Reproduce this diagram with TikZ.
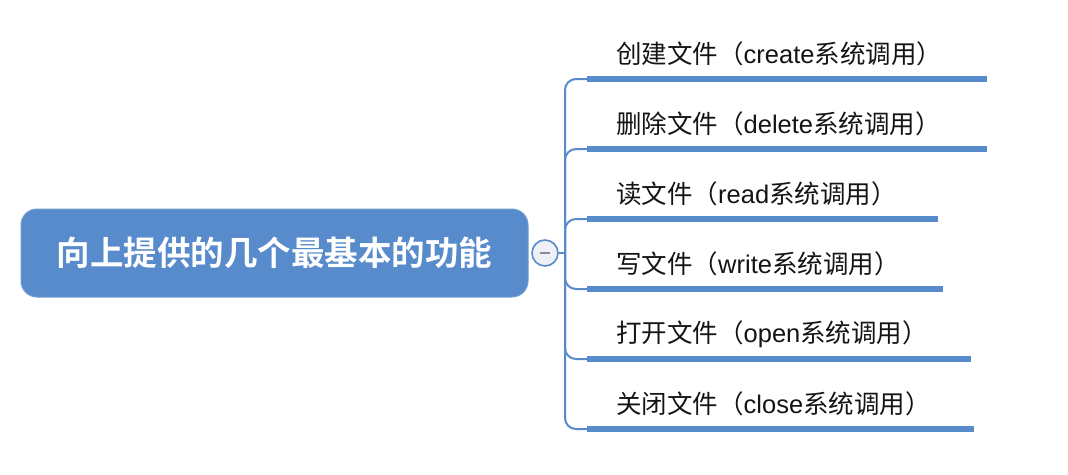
\documentclass[tikz,border=0pt]{standalone}
\usepackage{fontspec}
\newfontfamily\cjk{Noto Sans CJK SC}[BoldFont={Noto Sans CJK SC Bold}]
\newfontfamily\lat{Liberation Sans}
\definecolor{mmblue}{RGB}{88,139,203}
\definecolor{mmfill}{RGB}{238,240,246}
\definecolor{mmgray}{RGB}{135,138,150}
\definecolor{mmtext}{RGB}{20,20,20}
\tikzset{
  mainbox/.style={draw=mmblue!85!white, line width=1pt, fill=mmblue, rounded corners=16pt,
    minimum width=507pt, minimum height=88pt, inner sep=0pt,
    text=white, font=\cjk\bfseries\fontsize{33.5}{40}\selectfont},
  collapse/.style={circle, draw=mmblue, line width=1.6pt, fill=mmfill, minimum size=26pt, inner sep=0pt},
  itemtext/.style={anchor=west, inner sep=0pt, text=mmtext, font=\cjk\fontsize{25.5}{30}\selectfont},
  conn/.style={draw=mmblue, line width=2pt, rounded corners=11pt},
  bar/.style={draw=mmblue, line width=6.5pt},
}
\begin{document}
\begin{tikzpicture}[x=1pt,y=-1pt]
\useasboundingbox (0,0) rectangle (1068,474);
\node[mainbox] (main) at (274.5,253) {向上提供的几个最基本的功能};
\node[collapse] (circ) at (545,253) {};
\draw[mmgray, line width=2pt] ([xshift=-5pt]circ.center) -- ([xshift=5pt]circ.center);
\coordinate (spine) at (565,253);
\draw[conn] (circ.east) -- (spine);
% bar starts and ends
\coordinate (b1) at (587,79);  \coordinate (e1) at (987,79);
\coordinate (b2) at (587,149); \coordinate (e2) at (987,149);
\coordinate (b3) at (587,219); \coordinate (e3) at (938,219);
\coordinate (b4) at (587,289); \coordinate (e4) at (943,289);
\coordinate (b5) at (587,359); \coordinate (e5) at (971,359);
\coordinate (b6) at (587,429); \coordinate (e6) at (974,429);
\foreach \i in {1,...,6}{
  \draw[conn] (spine) |- (b\i);
  \draw[bar] (b\i) -- (e\i);
}
\node[itemtext] (t1) at (616,54)  {创建文件（{\lat create}系统调用）};
\node[itemtext] (t2) at (616,124) {删除文件（{\lat delete}系统调用）};
\node[itemtext] (t3) at (616,194) {读文件（{\lat read}系统调用）};
\node[itemtext] (t4) at (616,264) {写文件（{\lat write}系统调用）};
\node[itemtext] (t5) at (616,334) {打开文件（{\lat open}系统调用）};
\node[itemtext] (t6) at (616,404) {关闭文件（{\lat close}系统调用）};
\end{tikzpicture}
\end{document}
